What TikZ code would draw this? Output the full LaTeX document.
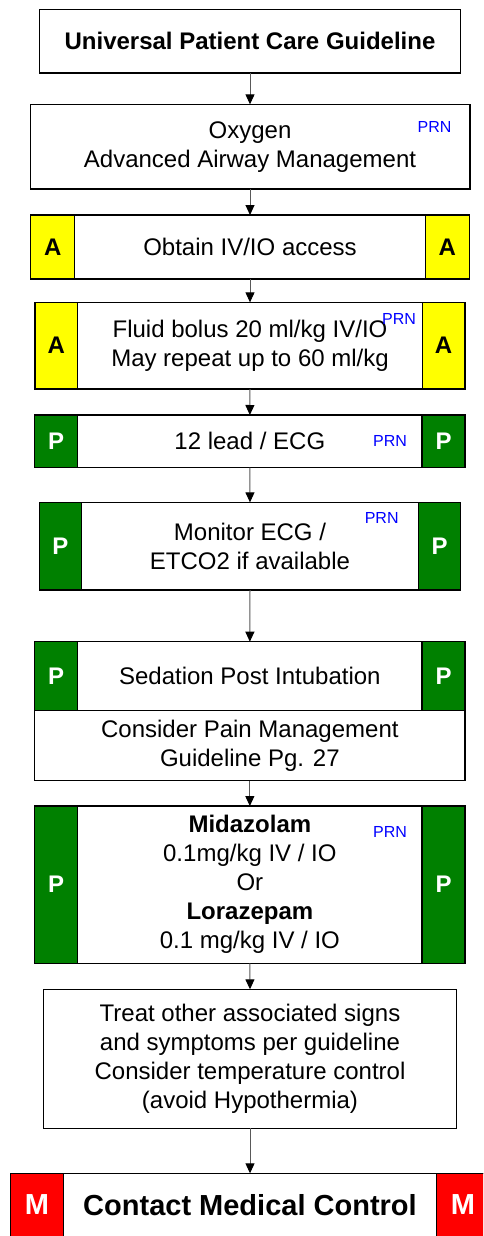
\documentclass[tikz,border=0pt]{standalone}
\usepackage{fontspec}
\setmainfont{Liberation Sans}
\usetikzlibrary{arrows.meta}
\definecolor{tagyellow}{RGB}{255,255,0}
\definecolor{taggreen}{RGB}{0,128,0}
\definecolor{tagred}{RGB}{255,0,0}
\definecolor{prnblue}{RGB}{0,0,255}
\begin{document}
\begin{tikzpicture}[x=1pt,y=-1pt,
  stepbox/.style={draw, line width=1.3pt, fill=white, inner sep=0pt, outer sep=0pt,
    align=center, font=\fontsize{24}{29}\selectfont},
  tagbox/.style={draw, line width=1.3pt, inner sep=0pt, outer sep=0pt,
    font=\fontsize{24}{29}\selectfont\bfseries},
  atag/.style={tagbox, fill=tagyellow, text=black},
  ptag/.style={tagbox, fill=taggreen, text=white},
  mtag/.style={tagbox, fill=tagred, text=white, font=\fontsize{29}{34}\selectfont\bfseries},
  prn/.style={inner sep=0pt, text=prnblue, font=\fontsize{16}{19}\selectfont},
  flow/.style={draw=black!65, line width=1pt, -{Triangle[width=9pt,length=10pt,color=black]}}
]
\useasboundingbox (0,0) rectangle (483,1236);
\fill[white] (0,0) rectangle (483,1236);
\clip (0,0) rectangle (483,1236);

% Title
\node[stepbox, minimum width=421.4pt, minimum height=63.7pt, font=\fontsize{24}{29}\selectfont\bfseries]
  (title) at (250,41.2) {Universal Patient Care Guideline};

% Oxygen / airway
\node[stepbox, minimum width=439.7pt, minimum height=84.7pt] (oxy) at (250,146.7)
  {Oxygen\\Advanced Airway Management};
\node[prn] (oxyprn) at (434.5,127) {PRN};

% IV/IO access
\node[stepbox, minimum width=438.6pt, minimum height=64pt] (iv) at (250,247) {Obtain IV/IO access};
\node[atag, minimum width=44pt, minimum height=64pt, anchor=west] (ivl) at (iv.west) {A};
\node[atag, minimum width=44pt, minimum height=64pt, anchor=east] (ivr) at (iv.east) {A};

% Fluid bolus
\node[stepbox, minimum width=430pt, minimum height=86.7pt] (fluid) at (250,345.7)
  {Fluid bolus 20 ml/kg IV/IO\\May repeat up to 60 ml/kg};
\node[atag, minimum width=42.7pt, minimum height=86.7pt, anchor=west] (fluidl) at (fluid.west) {A};
\node[atag, minimum width=42.7pt, minimum height=86.7pt, anchor=east] (fluidr) at (fluid.east) {A};
\node[prn] (fluidprn) at (399,319) {PRN};

% 12 lead
\node[stepbox, minimum width=430.3pt, minimum height=52.7pt] (ecg) at (249.85,441.35) {12 lead / ECG};
\node[ptag, minimum width=43pt, minimum height=52.7pt, anchor=west] (ecgl) at (ecg.west) {P};
\node[ptag, minimum width=43pt, minimum height=52.7pt, anchor=east] (ecgr) at (ecg.east) {P};
\node[prn] (ecgprn) at (390,441) {PRN};

% Monitor
\node[stepbox, minimum width=421.4pt, minimum height=87.7pt] (mon) at (250,546.2)
  {Monitor ECG /\\ETCO2 if available};
\node[ptag, minimum width=42.4pt, minimum height=87.7pt, anchor=west] (monl) at (mon.west) {P};
\node[ptag, minimum width=42.4pt, minimum height=87.7pt, anchor=east] (monr) at (mon.east) {P};
\node[prn] (monprn) at (381.7,518) {PRN};

% Sedation
\node[stepbox, minimum width=430.3pt, minimum height=69pt] (sed) at (249.85,676.2) {Sedation Post Intubation};
\node[ptag, minimum width=43pt, minimum height=69pt, anchor=west] (sedl) at (sed.west) {P};
\node[ptag, minimum width=43pt, minimum height=69pt, anchor=east] (sedr) at (sed.east) {P};
\node[stepbox, minimum width=430.3pt, minimum height=70pt, anchor=north] (pain) at (sed.south)
  {Consider Pain Management\\Guideline Pg. 27};

% Medications
\node[stepbox, minimum width=430.3pt, minimum height=157.3pt] (med) at (249.85,884.7)
  {\textbf{Midazolam}\\0.1mg/kg IV / IO\\Or\\\textbf{Lorazepam}\\0.1 mg/kg IV / IO};
\node[ptag, minimum width=43pt, minimum height=157.3pt, anchor=west] (medl) at (med.west) {P};
\node[ptag, minimum width=43pt, minimum height=157.3pt, anchor=east] (medr) at (med.east) {P};
\node[prn] (medprn) at (390,831.7) {PRN};

% Other treatment
\node[stepbox, minimum width=413.4pt, minimum height=139pt] (treat) at (250,1058.8)
  {Treat other associated signs\\and symptoms per guideline\\Consider temperature control\\(avoid Hypothermia)};

% Medical control
\node[stepbox, minimum width=479.4pt, minimum height=63.4pt, font=\fontsize{29}{34}\selectfont\bfseries]
  (mc) at (250,1205) {Contact Medical Control};
\node[mtag, minimum width=53.4pt, minimum height=63.4pt, anchor=west] (mcl) at (mc.west) {M};
\node[mtag, minimum width=53.4pt, minimum height=63.4pt, anchor=east] (mcr) at (mc.east) {M};

% Connectors
\draw[flow] (title.south) -- (oxy.north);
\draw[flow] (oxy.south) -- (iv.north);
\draw[flow] (iv.south) -- (fluid.north);
\draw[flow] (fluid.south) -- (ecg.north);
\draw[flow] (ecg.south) -- (mon.north);
\draw[flow] (mon.south) -- (sed.north);
\draw[flow] (pain.south) -- (med.north);
\draw[flow] (med.south) -- (treat.north);
\draw[flow] (treat.south) -- (mc.north);
\end{tikzpicture}
\end{document}
